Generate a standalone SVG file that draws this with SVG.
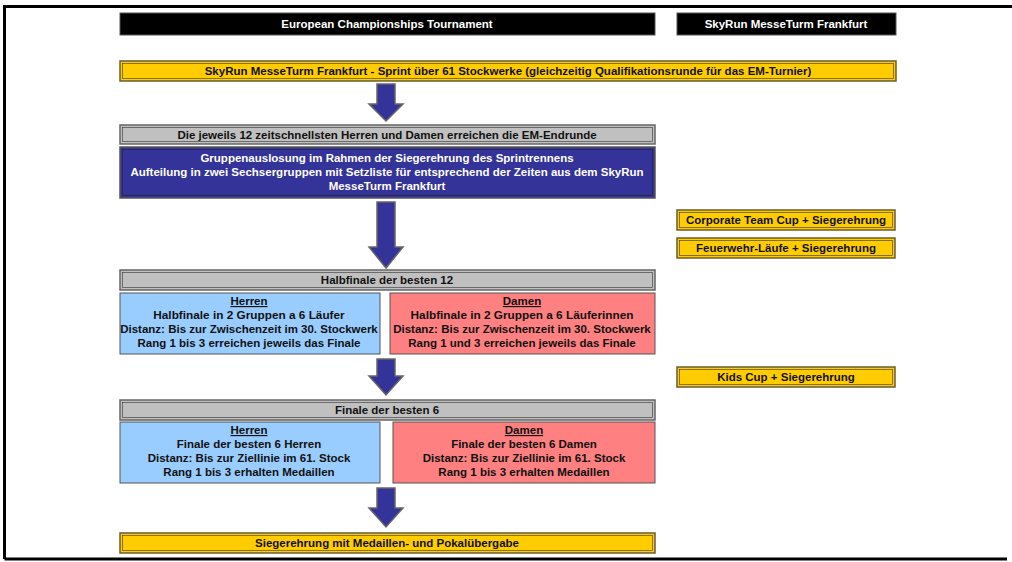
<svg xmlns="http://www.w3.org/2000/svg" width="1012" height="562" viewBox="0 0 1012 562">
<style>
text{font-family:"Liberation Sans",Arial,sans-serif;font-weight:bold;text-anchor:middle;fill:#111}
.w{fill:#fff}
.t{font-size:11.5px}
.big{font-size:11.8px}
.u{text-decoration:underline}
.blk{fill:#000;stroke:#555;stroke-width:1}
.yel{fill:#FFCC00;stroke:#6b5d2e;stroke-width:1.5}
.gry{fill:#C0C0C0;stroke:#666;stroke-width:1.5}
.inner{fill:none;stroke:#333;stroke-width:0.6}
.blu{fill:#333399;stroke:#555;stroke-width:1.5}
.lb{fill:#99CCFF;stroke:#555;stroke-width:1}
.rd{fill:#FF8080;stroke:#555;stroke-width:1}
.arr{fill:#333399;stroke:#666;stroke-width:1.5;stroke-linejoin:miter}
</style>
<rect x="0" y="0" width="1012" height="562" fill="#fff"/>
<path d="M4.5,559 V6.5 H1012" fill="none" stroke="#000" stroke-width="3"/>
<path d="M4.5,559 H1007" fill="none" stroke="#000" stroke-width="3"/>

<g id="title-em">
<rect class="blk" x="120" y="13" width="535" height="22"/>
<text class="t w" x="387" y="28">European Championships Tournament</text>
</g>
<g id="title-skyrun">
<rect class="blk" x="677" y="13" width="219" height="22"/>
<text class="t w" x="786" y="28">SkyRun MesseTurm Frankfurt</text>
</g>
<g id="sprint">
<rect class="yel" x="120" y="61" width="776" height="20"/>
<rect class="inner" x="122.5" y="63.5" width="771" height="15"/>
<text class="t" x="508" y="75">SkyRun MesseTurm Frankfurt - Sprint über 61 Stockwerke (gleichzeitig Qualifikationsrunde für das EM-Turnier)</text>
</g>
<g id="top12">
<rect class="gry" x="120" y="125" width="535" height="19"/>
<rect class="inner" x="122.5" y="127.5" width="530" height="14"/>
<text class="t" x="387" y="138.5">Die jeweils 12 zeitschnellsten Herren und Damen erreichen die EM-Endrunde</text>
</g>
<g id="auslosung">
<rect class="blu" x="120" y="147" width="535" height="51"/>
<rect class="inner" x="122.5" y="149.5" width="530" height="46" style="stroke:#222"/>
<text class="t w" x="387" y="162">Gruppenauslosung im Rahmen der Siegerehrung des Sprintrennens</text>
<text class="t w" x="387" y="176">Aufteilung in zwei Sechsergruppen mit Setzliste für entsprechend der Zeiten aus dem SkyRun</text>
<text class="t w" x="387" y="190">MesseTurm Frankfurt</text>
</g>
<g id="halbfinale">
<rect class="gry" x="120" y="270" width="535" height="20"/>
<rect class="inner" x="122.5" y="272.5" width="530" height="15"/>
<text class="t" x="387" y="284">Halbfinale der besten 12</text>
</g>
<g id="hf-herren">
<rect class="lb" x="120" y="293" width="260" height="61"/>
<text class="t u" x="249" y="305">Herren</text>
<text class="big" x="249" y="319">Halbfinale in 2 Gruppen a 6 Läufer</text>
<text class="t" x="249" y="333">Distanz: Bis zur Zwischenzeit im 30. Stockwerk</text>
<text class="t" x="249" y="347">Rang 1 bis 3 erreichen jeweils das Finale</text>
</g>
<g id="hf-damen">
<rect class="rd" x="390" y="293" width="265" height="61"/>
<text class="t u" x="522" y="305">Damen</text>
<text class="big" x="522" y="319">Halbfinale in 2 Gruppen a 6 Läuferinnen</text>
<text class="t" x="522" y="333">Distanz: Bis zur Zwischenzeit im 30. Stockwerk</text>
<text class="t" x="522" y="347">Rang 1 und 3 erreichen jeweils das Finale</text>
</g>
<g id="finale">
<rect class="gry" x="120" y="400" width="535" height="20"/>
<rect class="inner" x="122.5" y="402.5" width="530" height="15"/>
<text class="t" x="387" y="414">Finale der besten 6</text>
</g>
<g id="f-herren">
<rect class="lb" x="120" y="422" width="260" height="61"/>
<text class="t u" x="249" y="434">Herren</text>
<text class="t" x="249" y="448">Finale der besten 6 Herren</text>
<text class="t" x="249" y="462">Distanz: Bis zur Ziellinie im 61. Stock</text>
<text class="t" x="249" y="476">Rang 1 bis 3 erhalten Medaillen</text>
</g>
<g id="f-damen">
<rect class="rd" x="393" y="422" width="262" height="61"/>
<text class="t u" x="524" y="434">Damen</text>
<text class="t" x="524" y="448">Finale der besten 6 Damen</text>
<text class="t" x="524" y="462">Distanz: Bis zur Ziellinie im 61. Stock</text>
<text class="t" x="524" y="476">Rang 1 bis 3 erhalten Medaillen</text>
</g>
<g id="siegerehrung">
<rect class="yel" x="120" y="533" width="535" height="20"/>
<rect class="inner" x="122.5" y="535.5" width="530" height="15"/>
<text class="t" x="387" y="547">Siegerehrung mit Medaillen- und Pokalübergabe</text>
</g>
<g id="corporate">
<rect class="yel" x="677" y="210" width="218" height="20"/>
<rect class="inner" x="679.5" y="212.5" width="213" height="15"/>
<text class="t" x="786" y="224">Corporate Team Cup + Siegerehrung</text>
</g>
<g id="feuerwehr">
<rect class="yel" x="677" y="238" width="218" height="20"/>
<rect class="inner" x="679.5" y="240.5" width="213" height="15"/>
<text class="t" x="786" y="252">Feuerwehr-Läufe + Siegerehrung</text>
</g>
<g id="kids">
<rect class="yel" x="677" y="367" width="218" height="20"/>
<rect class="inner" x="679.5" y="369.5" width="213" height="15"/>
<text class="t" x="786" y="381">Kids Cup + Siegerehrung</text>
</g>

<g id="connectors">
<path class="arr" d="M377,84 H395 V104 H403 L386,121 L369,104 H377 Z"/>
<path class="arr" d="M377,202 H395 V247 H403 L386,268 L369,247 H377 Z"/>
<path class="arr" d="M377,359 H395 V376 H403 L386,395 L369,376 H377 Z"/>
<path class="arr" d="M377,488 H395 V508 H403 L386,527 L369,508 H377 Z"/>
</g>
</svg>
